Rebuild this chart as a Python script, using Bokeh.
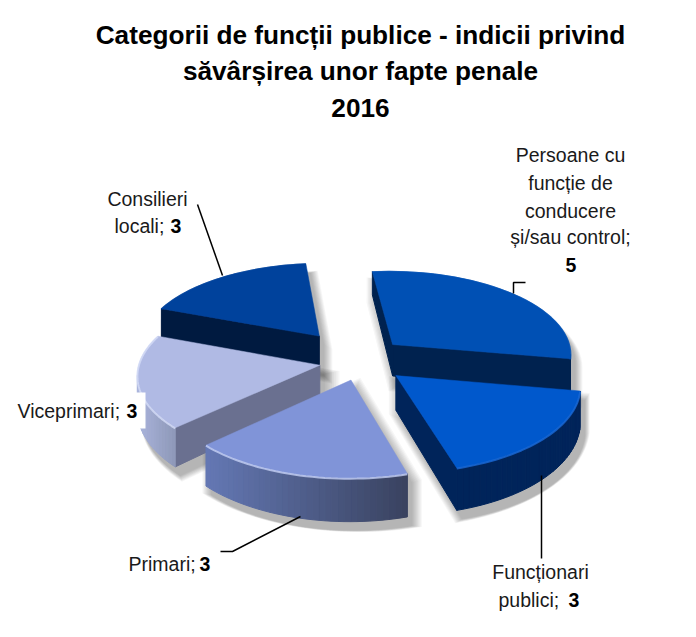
import numpy as np
from bokeh.plotting import figure
from bokeh.models import Range1d, ColumnDataSource
from bokeh.core.properties import value
from bokeh.embed import file_html
from bokeh.resources import INLINE

categories = ["Persoane cu funcție de conducere și/sau control", "Funcționari publici", "Primari", "Viceprimari", "Consilieri locali"]
values = [5, 3, 3, 3, 3]
title_lines = ["Categorii de funcții publice - indicii privind", "săvârșirea unor fapte penale", "2016"]

top_colors = ["#0050b4", "#0058cc", "#8094d8", "#b0bae4", "#00429c"]
cut_colors = ["#00224f", "#00245a", "#4a5580", "#6a7090", "#001a40"]
arc_left = ["#00224f", "#00245a", "#6478b4", "#aab4dc", "#001a40"]
arc_right = ["#00224f", "#00245a", "#39425f", "#8e98b8", "#001a40"]
rim_colors = ["#0050b4", "#1a6ad8", "#c4d0f4", "#d4dcf6", "#00429c"]
paint_order = [4, 0, 3, 1, 2]

CX, CY, A, B, K = 355.0, 360.0, 180.0, 85.0, 0.10
START = np.deg2rad(-6.0)
EXPLODE = 0.28
DEPTH = 33.0
NUDGE = [(1, 0), (2, -1), (9, -4), (14, 0), (-6, -6)]


def project(u, v):
    s = 1 + K * v
    return CX + A * u * s, CY + B * v * s


def hull(pts):
    pts = sorted(set(map(tuple, np.round(pts, 2))))
    def half(seq):
        out = []
        for p in seq:
            while len(out) > 1 and (out[-1][0]-out[-2][0])*(p[1]-out[-2][1]) - (out[-1][1]-out[-2][1])*(p[0]-out[-2][0]) <= 0:
                out.pop()
            out.append(p)
        return out[:-1]
    return np.array(half(pts) + half(pts[::-1]))


def mix(c1, c2, t):
    a = [int(c1[i:i+2], 16) for i in (1, 3, 5)]
    b = [int(c2[i:i+2], 16) for i in (1, 3, 5)]
    return "#%02x%02x%02x" % tuple(int(round(x + (y - x) * t)) for x, y in zip(a, b))


p = figure(width=680, height=621, output_backend="svg", toolbar_location=None,
           x_range=Range1d(0, 680), y_range=Range1d(621, 0),
           x_axis_location=None, y_axis_location=None,
           min_border=0, outline_line_color=None, background_fill_color="white")
p.grid.visible = False

total = sum(values)
slices = []
ang = START
for i, val in enumerate(values):
    sweep = 2 * np.pi * val / total
    th = np.linspace(ang, ang + sweep, 36)
    mid = ang + sweep / 2
    ue, ve = EXPLODE * np.sin(mid), -EXPLODE * np.cos(mid)
    u = np.r_[ue, ue + np.sin(th)]
    v = np.r_[ve, ve - np.cos(th)]
    x, y = project(u, v)
    x = x + NUDGE[i][0]
    y = y + NUDGE[i][1]
    d = DEPTH * (1 + 0.25 * v)
    slices.append(dict(x=x, y=y, d=d))
    ang += sweep

# soft shadows
for s in slices:
    pts = np.r_[np.c_[s["x"], s["y"]], np.c_[s["x"], s["y"] + s["d"]]]
    h = hull(pts)
    c = h.mean(axis=0)
    for grow in np.linspace(1.09, 1.0, 9):
        q = c + (h - c) * grow + np.array([5, 9])
        p.patch(q[:, 0], q[:, 1], fill_color="#000000", fill_alpha=0.035, line_color=None)

# slices
for i in paint_order:
    s = slices[i]
    x, y, d = s["x"], s["y"], s["d"]
    xs, ys, cols = [], [], []
    n = len(x)
    for j in range(n):
        k = (j + 1) % n
        if x[k] - x[j] < 0:
            xs.append([x[j], x[k], x[k], x[j]])
            ys.append([y[j], y[k], y[k] + d[k], y[j] + d[j]])
            if j == 0 or j == n - 1:
                cols.append(cut_colors[i])
            else:
                t = (0.5 * (x[j] + x[k]) - x[1:].min()) / (x[1:].max() - x[1:].min())
                cols.append(mix(arc_left[i], arc_right[i], float(t)))
    p.patches(xs, ys, fill_color=cols, line_color=cols, line_width=1)
    p.patch(x, y, fill_color=top_colors[i], line_color=top_colors[i], line_width=0.5)
    p.line(x[1:], y[1:] + 0.5, line_color=rim_colors[i], line_width=2, line_alpha=0.8)

# white label background for the Viceprimari value
p.quad(left=[120], right=[145], top=[392], bottom=[428], fill_color="white", line_color=None)

# leader lines
lead_x = [[513, 513, 525], [541, 541], [300, 232, 220], [222, 197]]
lead_y = [[293, 282, 282], [475, 558], [516, 551, 551], [275, 204]]
p.multi_line(lead_x, lead_y, line_color="black", line_width=1.5)

F = value("Liberation Sans")
p.text([360, 360, 360], [34, 70, 107], text=title_lines, text_align="center", text_baseline="middle",
       text_font=F, text_font_style="bold", text_font_size="26.2px", text_color="black")

LH = "19.5px"
norm = ColumnDataSource(dict(
    x=[570, 570, 570, 570, 147, 114, 17, 128, 540, 498],
    y=[154, 182, 210, 236, 198, 225, 410, 563, 571, 599],
    t=["Persoane cu", "funcție de", "conducere", "și/sau control;", "Consilieri", "locali; ",
       "Viceprimari; ", "Primari; ", "Funcționari", "publici; "],
    a=["center", "center", "center", "center", "center", "left", "left", "left", "center", "left"]))
p.text("x", "y", text="t", text_align="a", text_baseline="middle", source=norm,
       text_font=F, text_font_size=LH, text_color="#1a1a1a")
bold = ColumnDataSource(dict(
    x=[565, 170, 126, 199, 568],
    y=[264, 225, 410, 563, 599],
    t=[str(values[0]), str(values[4]), str(values[3]), str(values[2]), str(values[1])]))
p.text("x", "y", text="t", text_align="left", text_baseline="middle", source=bold,
       text_font=F, text_font_style="bold", text_font_size=LH, text_color="black")

open("out.html", "w").write(file_html(p, INLINE))
